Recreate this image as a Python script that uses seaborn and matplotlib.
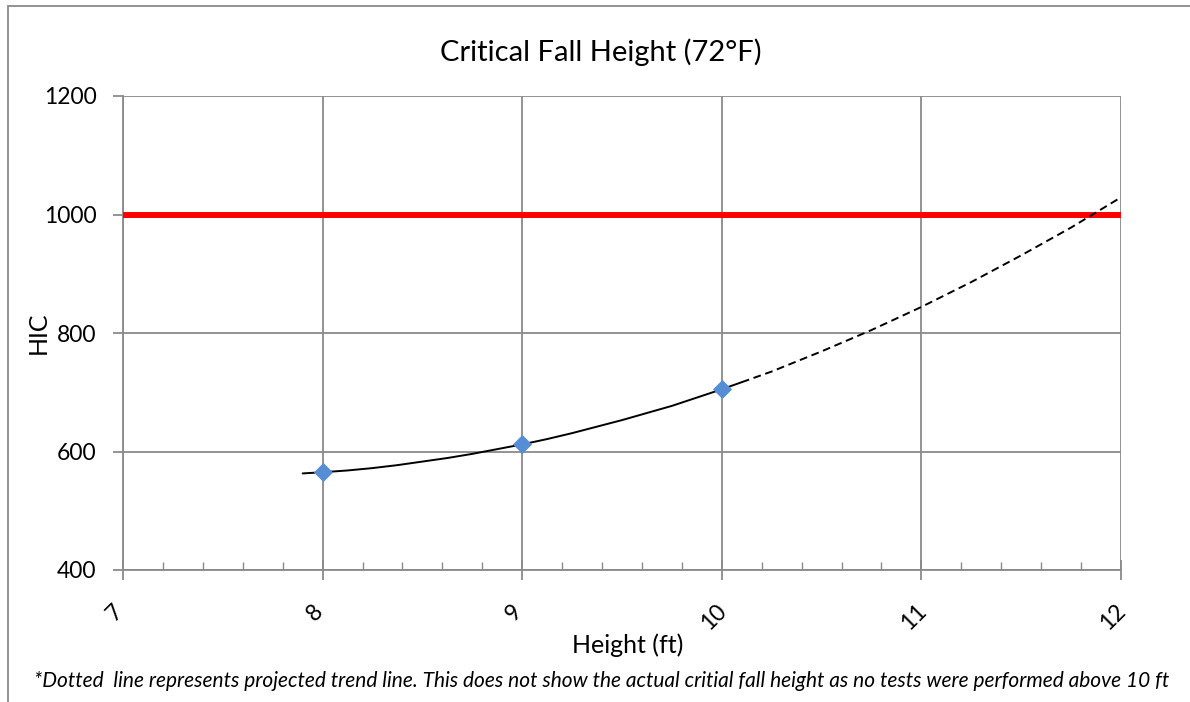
import matplotlib
matplotlib.use("Agg")
import matplotlib.pyplot as plt
import matplotlib.transforms as mtransforms
from matplotlib.patches import Rectangle
from matplotlib.ticker import MultipleLocator
import seaborn as sns
import pandas as pd

# Measured HIC values
heights = [8, 9, 10]
hic = [565, 612, 705]

# Trend line (solid over the tested range)
trend_x = [7.9, 8.0, 8.125, 8.25, 8.375, 8.5, 8.625, 8.75, 8.875, 9.0,
           9.125, 9.25, 9.375, 9.5, 9.625, 9.75, 9.875, 10.0, 10.1]
trend_y = [563, 565, 568, 572, 577, 583, 589, 596, 604, 612,
           621, 631, 642, 653, 665, 677, 691, 705, 717]

# Projected part (dashed)
proj_x = [10.1, 10.25, 10.5, 10.75, 11.0, 11.25, 11.5, 11.75, 12.0]
proj_y = [717, 735, 769, 805, 844, 886, 931, 978, 1029]

limit_x = [7, 12]
limit_y = [1000, 1000]

x_ticks = [7, 8, 9, 10, 11, 12]
y_ticks = [400, 600, 800, 1000, 1200]

sns.set_theme(style="white")
plt.rcParams["font.family"] = ["Lato", "DejaVu Sans"]
plt.rcParams["text.color"] = "black"
plt.rcParams["xtick.color"] = "black"
plt.rcParams["ytick.color"] = "black"
plt.rcParams["axes.labelcolor"] = "black"

GRID = "#8A8A8A"

fig = plt.figure(figsize=(11.9, 7.02), dpi=100)
ax = fig.add_axes([123 / 1190, 1 - 570 / 702, (1121 - 123) / 1190, (570 - 96) / 702])

points = pd.DataFrame({"height": heights, "hic": hic})

ax.plot(limit_x, limit_y, color="#FF0000", linewidth=4.3, zorder=3)
ax.plot(trend_x, trend_y, color="black", linewidth=1.4, zorder=4)
ax.plot(proj_x, proj_y, color="black", linewidth=1.4, linestyle=(0, (4, 2.4)), zorder=4)
sns.scatterplot(data=points, x="height", y="hic", marker="D", s=95, color="#558ED5",
                edgecolor="#558ED5", linewidth=0, ax=ax, zorder=5)

ax.set_xlim(7, 12)
ax.set_ylim(400, 1200)
ax.set_xticks(x_ticks)
ax.set_yticks(y_ticks)
ax.xaxis.set_minor_locator(MultipleLocator(0.2))
ax.grid(True, which="major", color=GRID, linewidth=1.3)
ax.set_axisbelow(True)

for side in ["top", "right"]:
    ax.spines[side].set_visible(False)
for side in ["left", "bottom"]:
    ax.spines[side].set_color(GRID)
    ax.spines[side].set_linewidth(1.3)

ax.tick_params(axis="x", which="major", direction="inout", length=14, width=1.3,
               color=GRID, labelsize=16.5, labelrotation=45, pad=15, bottom=True)
ax.tick_params(axis="x", which="minor", direction="in", length=6, width=1.0,
               color=GRID, bottom=True)
ax.tick_params(axis="y", which="major", direction="out", length=7, width=1.3,
               color=GRID, labelsize=16.5, pad=12, left=True)

# Excel puts the rotated labels a little left of the tick
shift = mtransforms.ScaledTranslation(-8 / 100, 0, fig.dpi_scale_trans)
for lab in ax.get_xticklabels():
    lab.set_transform(lab.get_transform() + shift)

ax.set_xlabel("Height (ft)", fontsize=18)
ax.xaxis.set_label_coords((628 - 123) / 998, (570 - 645) / 474)
ax.xaxis.label.set_va("center")
ax.set_ylabel("HIC", fontsize=18)
ax.yaxis.set_label_coords((38 - 123) / 998, (570 - 333) / 474)
ax.yaxis.label.set_va("center")

fig.text(601 / 1190, 1 - 52 / 702, "Critical Fall Height (72°F)", fontsize=21,
         ha="center", va="center")

fig.text(34 / 1190, 1 - 681 / 702,
         "*Dotted  line represents projected trend line. This does not show the actual critial fall height as no tests were performed above 10 ft",
         fontsize=15, style="italic", va="center", ha="left")

fig.patches.append(Rectangle((8 / 1190, -0.05), 1.1, 1.05 - 6 / 702, transform=fig.transFigure,
                             fill=False, edgecolor=GRID, linewidth=1.3))

fig.savefig("out.png", dpi=100)
